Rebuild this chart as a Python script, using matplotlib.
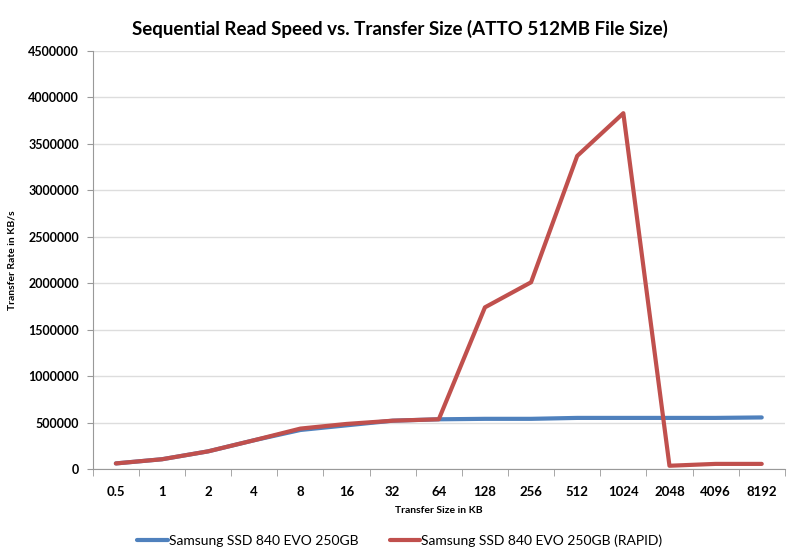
import matplotlib.pyplot as plt
from matplotlib.ticker import FixedLocator

plt.rcParams['font.family'] = ['Lato', 'DejaVu Sans']

sizes = ['0.5', '1', '2', '4', '8', '16', '32', '64', '128', '256', '512', '1024', '2048', '4096', '8192']
evo = [60000, 105000, 190000, 310000, 420000, 470000, 520000, 535000,
       540000, 540000, 550000, 550000, 550000, 550000, 555000]
evo_rapid = [60000, 105000, 190000, 310000, 435000, 485000, 520000, 535000,
             1740000, 2010000, 3370000, 3830000, 35000, 55000, 55000]

fig = plt.figure(figsize=(8, 5.6), dpi=100)
ax = fig.add_axes([0.116, 0.1625, 0.865, 0.7465])

x = list(range(len(sizes)))
ax.plot(x, evo, color='#4F81BD', lw=3, solid_capstyle='round', label='Samsung SSD 840 EVO 250GB')
ax.plot(x, evo_rapid, color='#C0504D', lw=3, solid_capstyle='round', label='Samsung SSD 840 EVO 250GB (RAPID)')

ax.set_xlim(-0.5, len(sizes) - 0.5)
ax.set_ylim(0, 4500000)
ax.set_yticks(range(0, 4500001, 500000))
ax.set_yticklabels([str(v) for v in range(0, 4500001, 500000)], fontsize=9, fontweight='bold')
ax.set_xticks(x)
ax.set_xticklabels(sizes, fontsize=9.5, fontweight='bold')
ax.xaxis.set_minor_locator(FixedLocator([i - 0.5 for i in range(len(sizes) + 1)]))
ax.tick_params(axis='x', which='major', length=0, pad=12)
ax.tick_params(axis='x', which='minor', length=5, color='#999999', direction='out')
ax.tick_params(axis='y', length=4, color='#999999', pad=6)

ax.grid(axis='y', color='#DDDDDD', lw=1)
ax.set_axisbelow(True)
for s in ['top', 'right']:
    ax.spines[s].set_visible(False)
for s in ['left', 'bottom']:
    ax.spines[s].set_color('#999999')

ax.set_xlabel('Transfer Size in KB', fontsize=7.5, fontweight='bold', labelpad=6)
ax.set_ylabel('Transfer Rate in KB/s', fontsize=7.5, fontweight='bold', labelpad=8)
fig.suptitle('Sequential Read Speed vs. Transfer Size (ATTO 512MB File Size)',
             fontsize=13.5, fontweight='bold', y=0.965)

fig.legend(loc='center', bbox_to_anchor=(0.5, 0.035), ncol=2, frameon=False,
           handlelength=2.2, handletextpad=0.1, columnspacing=2.2,
           prop={'size': 10})

fig.savefig('out.png', dpi=100)
